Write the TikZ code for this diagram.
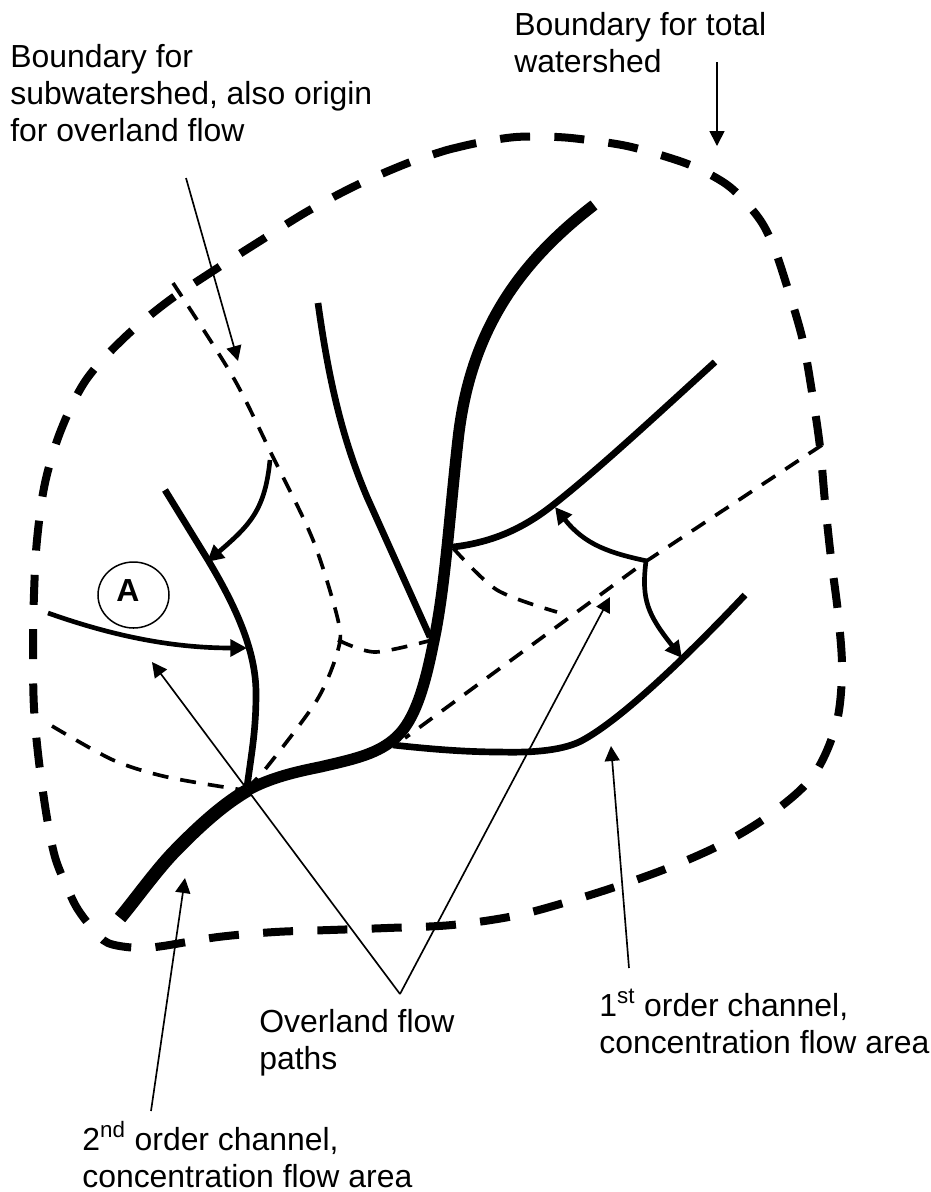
\documentclass[tikz,border=0pt]{standalone}
\usepackage{fontspec}
\setmainfont{Liberation Sans}
\usetikzlibrary{arrows.meta,shapes.geometric}
\tikzset{
  outerline/.style={line width=4.8pt, dash pattern=on 18pt off 14.6pt},
  innerline/.style={line width=2.2pt, dash pattern=on 9.6pt off 7.2pt},
  mainchannel/.style={line width=6.8pt},
  lowerchannel/.style={line width=8pt},
  sidechannel/.style={line width=4pt},
  flowarrow/.style={line width=2.8pt, -{Triangle[length=10pt,width=10pt]}},
  notearrow/.style={line width=1pt, -{Triangle[length=9pt,width=9pt]}},
  note/.style={anchor=north west, align=left, inner sep=0pt, font=\fontsize{19.15}{22.2}\selectfont}
}
\begin{document}
\begin{tikzpicture}[x=0.6pt,y=-0.6pt]
  \useasboundingbox (0,0) rectangle (931,1192);
  % Draw the total watershed boundary
  \draw[outerline] plot[smooth, tension=0.55] coordinates {(447,150) (477,143) (516,137) (557,137) (588,140) (627,146) (667,157) (697,168) (730,187) (758,217) (773,245) (786,283) (802,337) (812,392) (820,447) (825,502) (831,558) (838,613) (842,670) (836,725) (813,776) (771,814) (724,843) (673,866) (621,885) (567,902) (514,916) (452,925) (387,928) (330,930) (275,932) (218,937) (163,946) (138,948) (108,943) (92,928) (77,908) (66,885) (55,857) (47,818) (39,762) (34,708) (33,651) (34,594) (37,540) (45,483) (61,430) (86,380) (124,338) (167,302) (213,271) (260,241) (308,211) (357,185) (408,163) (447,150)};
  % Draw the dashed divides
  \draw[innerline] plot[smooth, tension=0.5] coordinates {(173,283) (233,377) (273,457) (313,540) (338,620) (338,650) (317,700) (267,767) (248,787)};
  \draw[innerline] plot[smooth] coordinates {(338,640) (375,652) (432,640)};
  \draw[innerline] plot[smooth] coordinates {(52,726) (113,760) (167,777) (243,790)};
  \draw[innerline] (822,445) -- (645,562) -- (405,738);
  \draw[innerline] plot[smooth] coordinates {(453,548) (497,590) (557,612)};
  % Draw the channels
  \draw[mainchannel] (594,205) .. controls (520,262) and (470,330) .. (458,440)
    .. controls (449,520) and (445,590) .. (433,645)
    .. controls (423,695) and (412,725) .. (393,740)
    .. controls (375,755) and (350,760) .. (320,767)
    .. controls (295,772) and (270,778) .. (248,790);
  \draw[lowerchannel] (248,790) .. controls (225,803) and (200,825) .. (173,853)
    .. controls (155,872) and (135,900) .. (120,918);
  \draw[sidechannel] (715,362) .. controls (660,412) and (600,468) .. (553,505)
    .. controls (525,527) and (495,542) .. (453,547);
  \draw[sidechannel] (745,595) .. controls (695,648) and (625,717) .. (583,740)
    .. controls (565,750) and (535,753) .. (500,752)
    .. controls (465,752) and (430,749) .. (393,745);
  \draw[sidechannel] (318,303) .. controls (330,390) and (345,445) .. (367,497) -- (430,637);
  \draw[sidechannel] (165,490) -- (208,560) .. controls (235,605) and (256,650) .. (256,693)
    .. controls (256,730) and (252,750) .. (247,787);
  % Draw arrows along the overland paths
  \draw[flowarrow] (48,613) .. controls (110,635) and (170,648) .. (247,648);
  \draw[flowarrow] (270,460) .. controls (265,510) and (250,525) .. (207,562);
  \draw[flowarrow] (647,561) .. controls (610,553) and (585,545) .. (555,507);
  \draw[flowarrow] (646,561) .. controls (641,600) and (648,615) .. (682,658);
  % Place the circle
  \node[draw, ellipse, line width=0.9pt, minimum width=42.6pt, minimum height=39.6pt, inner sep=0pt] (circleA) at (133.5,595) {};
  \node[font=\fontsize{19.15}{22}\selectfont\bfseries, inner sep=0pt] (labelA) at (128,591) {A};
  % Place the labels
  \node[note] (totalnote) at (514,12) {Boundary for total\\watershed};
  \node[note] (subnote) at (10,44) {Boundary for\\subwatershed, also origin\\for overland flow};
  \node[note] (overlandnote) at (259,1009) {Overland flow\\paths};
  \node[note] (firstnote) at (599,989) {1\textsuperscript{st} order channel,\\concentration flow area};
  \node[note] (secondnote) at (82,1121) {2\textsuperscript{nd} order channel,\\concentration flow area};
  % Draw arrows from the labels
  \coordinate (totalstart) at (717,62);
  \coordinate (totaltip) at (717,146);
  \coordinate (substart) at (186,178);
  \coordinate (subtip) at (238,361);
  \coordinate (overlandstart) at (400,994);
  \coordinate (overlandleft) at (152,662);
  \coordinate (overlandright) at (610,597);
  \coordinate (firststart) at (629,968);
  \coordinate (firsttip) at (611,746);
  \coordinate (secondstart) at (151,1111);
  \coordinate (secondtip) at (185,878);
  \draw[notearrow] (totalstart) -- (totaltip);
  \draw[notearrow] (substart) -- (subtip);
  \draw[notearrow] (overlandstart) -- (overlandleft);
  \draw[notearrow] (overlandstart) -- (overlandright);
  \draw[notearrow] (firststart) -- (firsttip);
  \draw[notearrow] (secondstart) -- (secondtip);
\end{tikzpicture}
\end{document}
